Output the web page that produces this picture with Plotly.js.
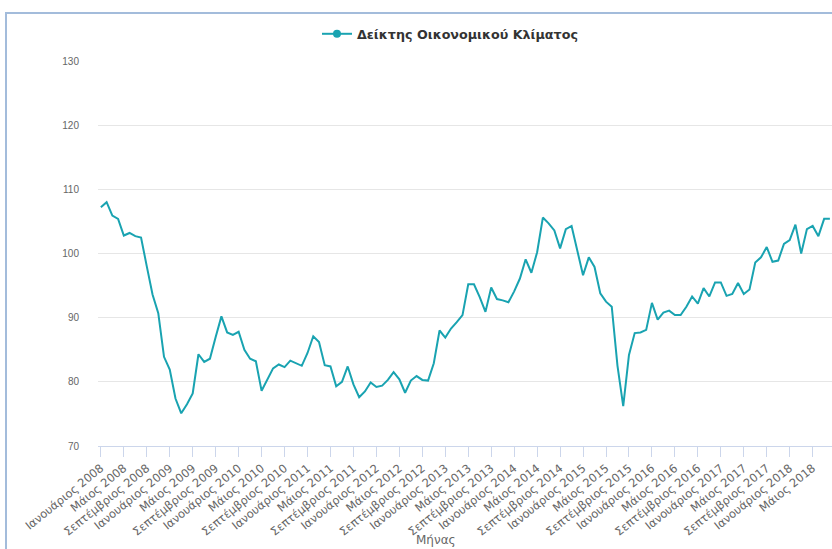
<!DOCTYPE html>
<html>
<head>
<meta charset="utf-8">
<script src="https://cdn.plot.ly/plotly-3.0.1.min.js"></script>
<style>
  html, body { margin: 0; padding: 0; background: #ffffff; overflow: hidden; }
  #chart { position: absolute; left: 0; top: 0; width: 832px; height: 549px; }
  #frame { position: absolute; left: 5px; top: 12px; width: 840px; height: 560px;
           border-left: 2px solid #a3bcdb; border-top: 2px solid #a3bcdb; pointer-events: none; }
</style>
</head>
<body>
<div id="chart"></div>
<div id="frame"></div>
<script>
const months = ["Ιανουάριος", "Φεβρουάριος", "Μάρτιος", "Απρίλιος", "Μάιος", "Ιούνιος",
                "Ιούλιος", "Αύγουστος", "Σεπτέμβριος", "Οκτώβριος", "Νοέμβριος", "Δεκέμβριος"];
const startYear = 2008;
const seriesName = "Δείκτης Οικονομικού Κλίματος";
const xTitle = "Μήνας";
const yTickValues = [70, 80, 90, 100, 110, 120, 130];

const values = [
  107.2, 108.0, 105.9, 105.4, 102.8, 103.2, 102.7, 102.5, 98.0, 93.6, 90.7, 83.9,
  81.9, 77.4, 75.1, 76.5, 78.2, 84.3, 83.1, 83.6, 87.0, 90.2, 87.7, 87.3,
  87.8, 85.0, 83.6, 83.2, 78.6, 80.4, 82.1, 82.7, 82.3, 83.3, 82.9, 82.5,
  84.5, 87.1, 86.2, 82.6, 82.4, 79.3, 80.0, 82.4, 79.6, 77.6, 78.5, 79.9,
  79.2, 79.4, 80.3, 81.5, 80.4, 78.3, 80.2, 80.9, 80.3, 80.2, 82.9, 88.0,
  86.9, 88.3, 89.3, 90.4, 95.2, 95.2, 93.2, 90.9, 94.7, 92.9, 92.7, 92.4,
  94.1, 96.1, 99.1, 97.0, 100.2, 105.6, 104.7, 103.6, 100.8, 103.8, 104.3, 100.4,
  96.6, 99.4, 97.9, 93.8, 92.5, 91.7, 82.5, 76.2, 84.2, 87.6, 87.7, 88.1,
  92.3, 89.7, 90.8, 91.1, 90.4, 90.4, 91.7, 93.3, 92.2, 94.6, 93.3, 95.5,
  95.5, 93.4, 93.7, 95.4, 93.7, 94.4, 98.6, 99.4, 101.0, 98.7, 98.9, 101.5,
  102.1, 104.5, 100.0, 103.8, 104.3, 102.7, 105.4, 105.4
];

const categories = values.map((v, i) => months[i % 12] + " " + (startYear + Math.floor(i / 12)));
const tickIdx = categories.map((c, i) => i).filter(i => i % 4 === 0);
const tickVals = tickIdx.map(i => categories[i]);

const lineColor = "#19a3b1";

const traces = [
  {
    type: "scatter", mode: "lines", x: categories, y: values,
    line: { color: lineColor, width: 2 }, showlegend: false, name: seriesName,
    hoverinfo: "x+y"
  },
  {
    type: "scatter", mode: "lines+markers", x: [null], y: [null],
    line: { color: lineColor, width: 2 }, marker: { color: lineColor, size: 8 },
    name: seriesName, showlegend: true
  }
];

const layout = {
  width: 832, height: 549,
  margin: { l: 98, r: 0, t: 61, b: 103 },
  paper_bgcolor: "#ffffff", plot_bgcolor: "#ffffff",
  font: { family: "Liberation Sans, Arial, sans-serif", size: 11, color: "#666666" },
  showlegend: true,
  legend: {
    orientation: "h", xref: "container", yref: "container",
    x: 0.381, xanchor: "left", y: 0.938, yanchor: "middle",
    font: { family: "DejaVu Sans, sans-serif", size: 12.7, color: "#333333", weight: "bold" },
    itemwidth: 30
  },
  xaxis: {
    type: "category",
    range: [-0.5, 127.37],
    tickmode: "array", tickvals: tickVals, ticktext: tickVals,
    tickangle: -39,
    ticks: "outside", ticklen: 10, tickcolor: "#ccd6eb", tickwidth: 1,
    showline: true, linecolor: "#ccd6eb", linewidth: 1,
    showgrid: false, zeroline: false,
    tickfont: { family: "DejaVu Sans, sans-serif", size: 11.5, color: "#666666" },
    automargin: false
  },
  yaxis: {
    range: [70, 130],
    tickmode: "array", tickvals: yTickValues,
    showgrid: true, gridcolor: "#e6e6e6", gridwidth: 1,
    zeroline: false, showline: false,
    ticks: "", ticklabelstandoff: 18,
    tickfont: { size: 10, color: "#666666" },
    automargin: false
  },
  annotations: [
    {
      text: xTitle, xref: "paper", yref: "paper",
      x: (436 - 98) / 734, xanchor: "center",
      y: -(540 - 446) / 385, yanchor: "middle",
      showarrow: false,
      font: { family: "DejaVu Sans, sans-serif", size: 12, color: "#666666" }
    }
  ]
};

Plotly.newPlot("chart", traces, layout, { displayModeBar: false, staticPlot: true });
</script>
</body>
</html>
